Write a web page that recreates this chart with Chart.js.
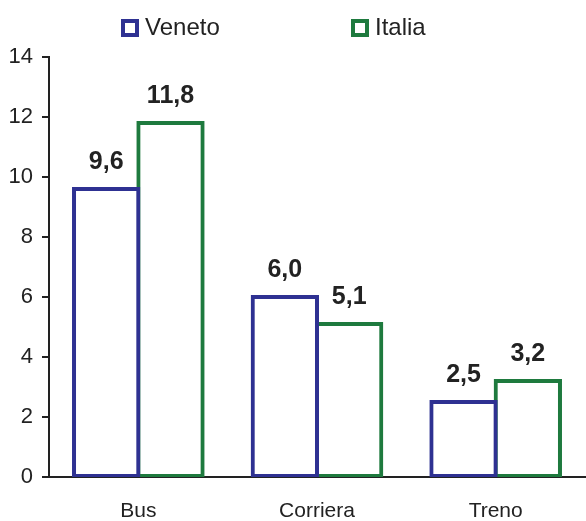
<!DOCTYPE html>
<html>
<head>
<meta charset="utf-8">
<script src="https://cdn.jsdelivr.net/npm/chart.js@4/dist/chart.umd.min.js"></script>
<style>
  html, body { margin: 0; padding: 0; background: #fff; }
  #canvasContainer { width: 586px; height: 521px; }
</style>
</head>
<body>
<div id="canvasContainer"><canvas id="Grafica"></canvas></div>
<script>
const categorie = ['Bus', 'Corriera', 'Treno'];
const veneto = [9.6, 6.0, 2.5];
const italia = [11.8, 5.1, 3.2];
const nomiSerie = ['Veneto', 'Italia'];
const coloriSerie = ['#2e3192', '#1e7a3e'];

const FONT = "'Liberation Sans', Arial, sans-serif";

// valori sopra le barre, con la virgola decimale
const etichettePlugin = {
    id: 'etichette',
    afterDatasetsDraw(chart) {
        const ctx = chart.ctx;
        ctx.save();
        ctx.font = 'bold 25px ' + FONT;
        ctx.fillStyle = '#222';
        ctx.textAlign = 'center';
        ctx.textBaseline = 'middle';
        chart.data.datasets.forEach((ds, i) => {
            chart.getDatasetMeta(i).data.forEach((bar, j) => {
                let testo = ds.data[j].toFixed(1).replace('.', ',');
                ctx.fillText(testo, bar.x, bar.y - 27);
            });
        });
        ctx.restore();
    }
};

// legenda in alto con quadratini vuoti
const legendaPlugin = {
    id: 'legenda',
    afterDraw(chart) {
        const ctx = chart.ctx;
        const posX = [121, 351];
        ctx.save();
        ctx.font = '24px ' + FONT;
        ctx.textBaseline = 'middle';
        ctx.textAlign = 'left';
        chart.data.datasets.forEach((ds, i) => {
            ctx.lineWidth = 4;
            ctx.strokeStyle = ds.borderColor;
            ctx.strokeRect(posX[i] + 2, 21, 14, 14);
            ctx.fillStyle = '#222';
            ctx.fillText(ds.label, posX[i] + 24, 28);
        });
        ctx.restore();
    }
};

function getDatasets(){
    return [veneto, italia].map((valori, i) => {
        return {
            label: nomiSerie[i],
            data: valori,
            backgroundColor: '#ffffff',
            borderColor: coloriSerie[i],
            borderWidth: 4,
            borderSkipped: false,
            inflateAmount: 2, // bordo centrato sul contorno della barra
            barPercentage: 1.0,
            categoryPercentage: 0.72
        }
    });
}

let ctx = document.getElementById('Grafica').getContext('2d');
new Chart(ctx, {
    type: 'bar',
    data: {
        labels: categorie,
        datasets: getDatasets()
    },
    options: {
        responsive: true,
        maintainAspectRatio: false,
        animation: false,
        layout: {
            padding: { top: 57, left: 0, right: 1, bottom: 0 }
        },
        plugins: {
            legend: { display: false },
            tooltip: { enabled: false }
        },
        scales: {
            x: {
                grid: { display: false, drawTicks: false },
                border: { display: true, color: '#222', width: 2 },
                ticks: {
                    color: '#222',
                    padding: 22,
                    font: { family: FONT, size: 21 }
                },
                afterFit(scale) { scale.height = 44; }
            },
            y: {
                min: 0,
                max: 14,
                ticks: {
                    stepSize: 2,
                    color: '#222',
                    padding: 9,
                    font: { family: FONT, size: 22 }
                },
                grid: {
                    drawOnChartArea: false,
                    drawTicks: true,
                    tickLength: 7,
                    color: '#222',
                    lineWidth: 2
                },
                border: { display: true, color: '#222', width: 2 },
                afterFit(scale) { scale.width = 49; }
            }
        }
    },
    plugins: [etichettePlugin, legendaPlugin]
});
</script>
</body>
</html>
